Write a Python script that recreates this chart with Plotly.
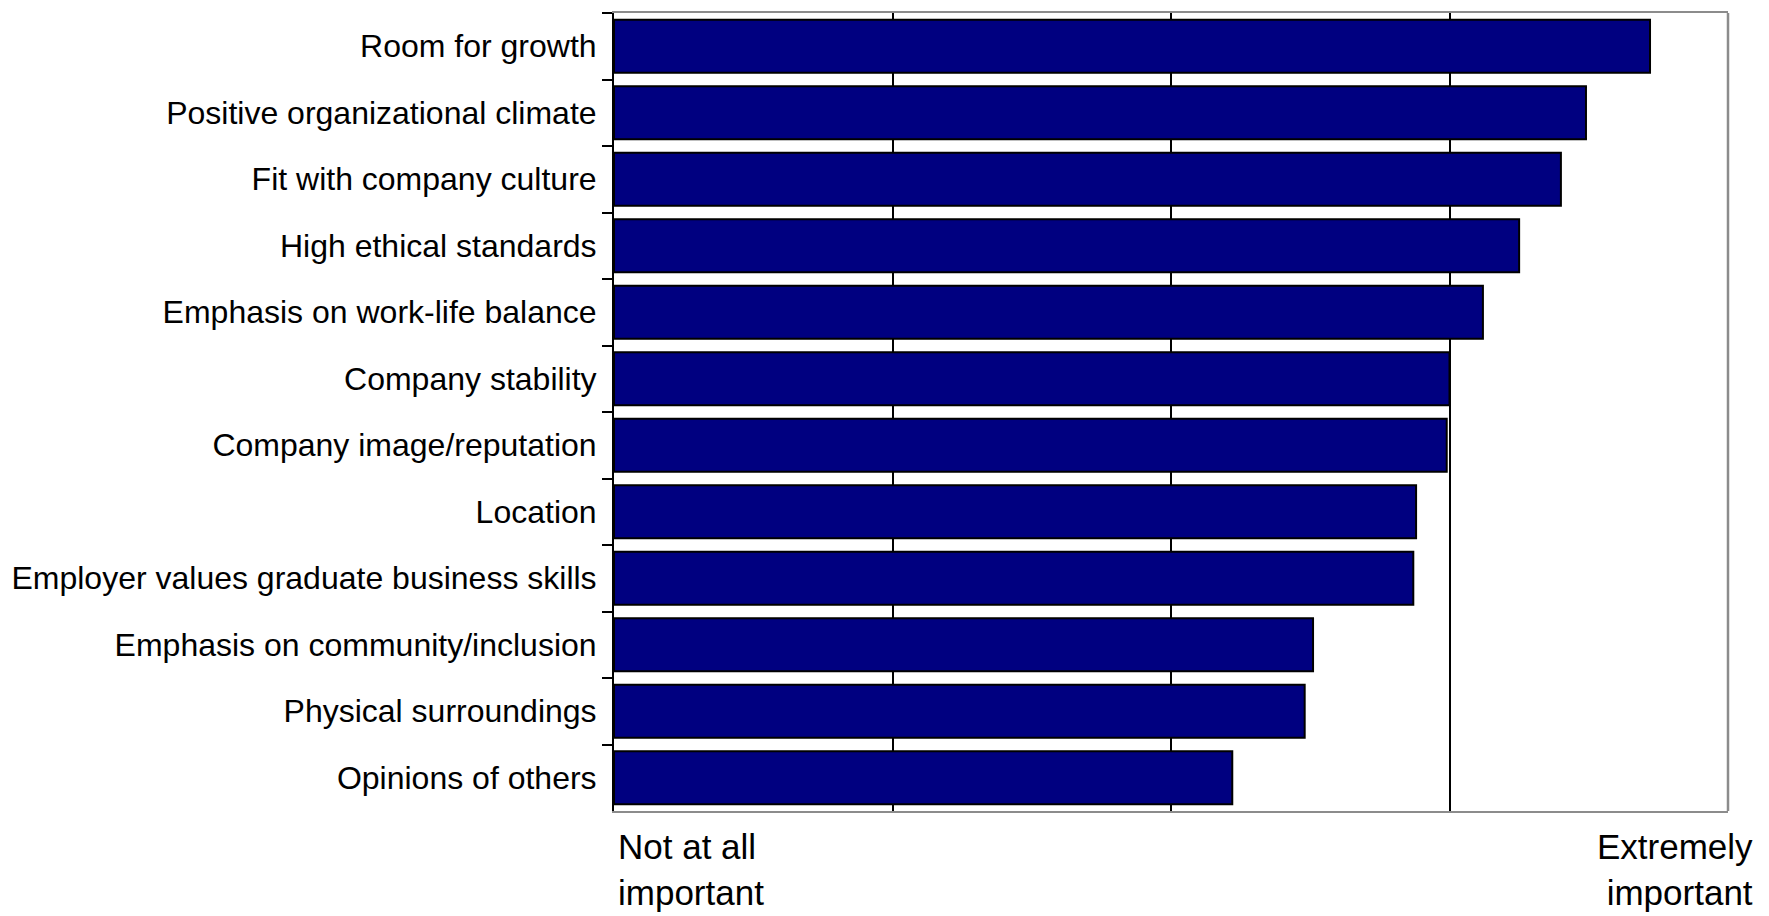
import plotly.graph_objects as go

categories = [
    "Room for growth",
    "Positive organizational climate",
    "Fit with company culture",
    "High ethical standards",
    "Emphasis on work-life balance",
    "Company stability",
    "Company image/reputation",
    "Location",
    "Employer values graduate business skills",
    "Emphasis on community/inclusion",
    "Physical surroundings",
    "Opinions of others",
]
importance = [4.72, 4.49, 4.40, 4.25, 4.12, 4.00, 3.99, 3.88, 3.87, 3.51, 3.48, 3.22]
scale_min = 1
scale_max = 5
low_label = "Not at all<br>important"
high_label = "Extremely<br>important"

fig = go.Figure()
fig.add_trace(go.Bar(
    y=categories,
    x=[v - scale_min for v in importance],
    base=scale_min,
    orientation="h",
    marker=dict(color="#000080", line=dict(color="#000000", width=2)),
))

FONT = "Liberation Sans, Arial, sans-serif"

fig.update_layout(
    width=1769, height=916,
    margin=dict(l=605, r=49, t=3, b=113),
    paper_bgcolor="white", plot_bgcolor="white",
    bargap=0.2,
    showlegend=False,
    font=dict(family=FONT, color="black"),
    xaxis=dict(
        range=[scale_min, scale_max],
        tickvals=[2, 3, 4],
        showticklabels=False,
        ticks="",
        showgrid=True, gridcolor="#000000", gridwidth=2,
        zeroline=False,
        showline=True, mirror=True, linecolor="#8c8c8c", linewidth=2,
    ),
    yaxis=dict(
        autorange="reversed",
        tickson="boundaries",
        ticks="outside", ticklen=10, tickwidth=2, tickcolor="black",
        showgrid=False,
        showline=True, linecolor="black", linewidth=2,
        tickfont=dict(family=FONT, size=32, color="black"),
        ticklabelstandoff=9,
    ),
    shapes=[dict(type="line", xref="paper", yref="paper", x0=1, x1=1, y0=0, y1=1,
                 line=dict(color="#8c8c8c", width=2.5), layer="above")],
    annotations=[
        dict(text=low_label, xref="paper", yref="paper", x=0, y=0,
             xanchor="left", yanchor="top", align="left", showarrow=False,
             xshift=2, yshift=-14, font=dict(family=FONT, size=35, color="black")),
        dict(text=high_label, xref="paper", yref="paper", x=1, y=0,
             xanchor="right", yanchor="top", align="right", showarrow=False,
             xshift=27, yshift=-14, font=dict(family=FONT, size=35, color="black")),
    ],
)

fig.write_html("out.html")
